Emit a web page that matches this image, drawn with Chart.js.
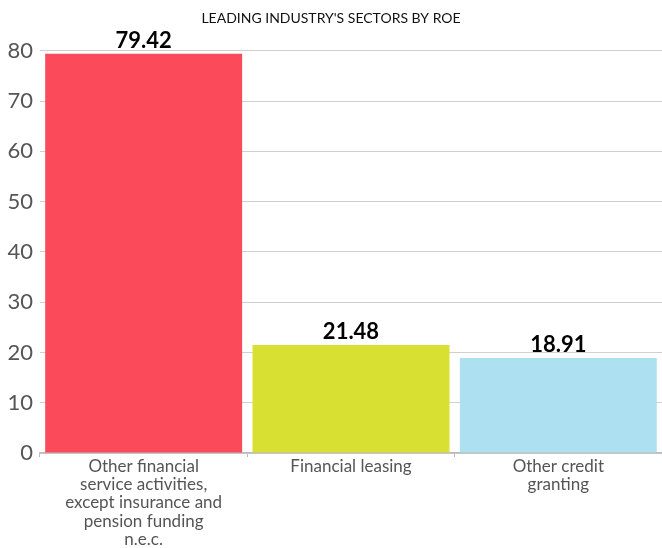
<!DOCTYPE html>
<html>
<head>
<meta charset="utf-8">
<script src="https://cdn.jsdelivr.net/npm/chart.js@4"></script>
<style>
  body { margin: 0; background: #fff; }
  #wrap { width: 662px; height: 548px; }
</style>
</head>
<body>
<div id="wrap"><canvas id="roeChart"></canvas></div>
<script>
// Chart data
const sectors = [
    ['Other financial', 'service activities,', 'except insurance and', 'pension funding', 'n.e.c.'],
    'Financial leasing',
    ['Other credit', 'granting']
];
const roeValues = [79.42, 21.48, 18.91];
const barColors = ['#fb4b5a', '#d8e031', '#ade1f2'];
const yTicks = [0, 10, 20, 30, 40, 50, 60, 70, 80];

// Draw the value above each bar
const valueLabels = {
    id: 'valueLabels',
    afterDatasetsDraw(chart) {
        const ctx = chart.ctx;
        const meta = chart.getDatasetMeta(0);
        ctx.save();
        ctx.font = 'bold 22px Lato';
        ctx.fillStyle = '#000';
        ctx.textAlign = 'center';
        ctx.textBaseline = 'bottom';
        meta.data.forEach((bar, i) => {
            ctx.fillText(roeValues[i].toFixed(2), bar.x, bar.y - 2);
        });
        ctx.restore();
    }
};

const ctx = document.getElementById('roeChart').getContext('2d');
const roeChart = new Chart(ctx, {
    type: 'bar',
    data: {
        labels: sectors,
        datasets: [{
            data: roeValues,
            backgroundColor: barColors,
            categoryPercentage: 1,
            barPercentage: 0.95
        }]
    },
    plugins: [valueLabels],
    options: {
        responsive: true,
        maintainAspectRatio: false,
        animation: false,
        layout: { padding: 0 },
        plugins: {
            legend: { display: false },
            tooltip: { enabled: false },
            title: {
                display: true,
                text: "LEADING INDUSTRY'S SECTORS BY ROE",
                color: '#111',
                font: { family: 'Lato', size: 14, weight: 'normal' },
                padding: { top: 10, bottom: 24 }
            }
        },
        scales: {
            x: {
                afterFit(axis) { axis.height = 95; },
                grid: {
                    offset: true,
                    drawOnChartArea: false,
                    tickLength: 4,
                    color: '#bbb'
                },
                border: { color: '#bbb', width: 1.5 },
                ticks: {
                    color: '#555',
                    font: { family: 'Lato', size: 17, lineHeight: 1.08 },
                    padding: 0,
                    maxRotation: 0,
                    autoSkip: false
                }
            },
            y: {
                min: 0,
                max: 80,
                afterFit(axis) { axis.width = 40; },
                afterBuildTicks(axis) {
                    axis.ticks = yTicks.map(v => ({ value: v }));
                },
                grid: { color: '#cfcfcf', drawTicks: false },
                border: { display: false },
                ticks: {
                    color: '#555',
                    font: { family: 'Lato', size: 22 },
                    padding: 7
                }
            }
        }
    }
});
</script>
</body>
</html>
